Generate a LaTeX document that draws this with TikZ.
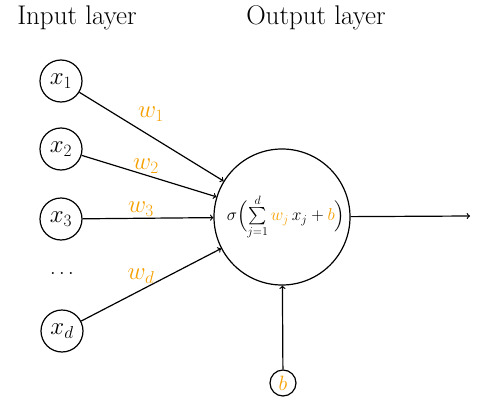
\documentclass[tikz,border=0pt]{standalone}
\usepackage{amsmath}
\definecolor{wcol}{RGB}{245,160,0}
\begin{document}
\begin{tikzpicture}[x=1pt,y=-1pt,line width=1.2pt,
    inp/.style={draw,circle,inner sep=0pt,minimum size=42pt,font=\fontsize{26}{30}\selectfont},
    wt/.style={text=wcol,font=\fontsize{24}{28}\selectfont}]
                \useasboundingbox (0,0) rectangle (482,415);
                \node[font=\fontsize{27}{31}\selectfont] (tin) at (77,18) {Input layer};
                \node[font=\fontsize{27}{31}\selectfont] (tout) at (316,18) {Output layer};
                \node[inp] (x1) at (61,81) {$x_1$};
                \node[inp] (x2) at (61,149) {$x_2$};
                \node[inp] (x3) at (61,219) {$x_3$};
                \node[font=\huge] (dots) at (62,273) {$\ldots$};
                \node[inp] (xd) at (62,331) {$x_d$};
                \node[draw,circle,inner sep=0pt,minimum size=136pt,font=\fontsize{18}{22}\selectfont] (out) at (282,217)
                    {\hspace{8pt}$\sigma\Bigl(\sum\limits_{j=1}^{d}{\color{wcol}w_j}\,x_j+{\color{wcol}b}\Bigr)$};
                \node[draw,circle,inner sep=0pt,minimum size=26pt,text=wcol,font=\huge] (b) at (283,383) {$b$};
                \coordinate (y) at (470,216);
                \node[wt] (w1) at (151,114) {$w_1$};
                \node[wt] (w2) at (146,166) {$w_2$};
                \node[wt] (w3) at (141,209) {$w_3$};
                \node[wt] (wd) at (141,276) {$w_d$};
                \draw[->] (x1) -- (out);
                \draw[->] (x2) -- (out);
                \draw[->] (x3) -- (out);
                \draw[->] (xd) -- (out);
                \draw[->] (b) -- (out);
                \draw[->] (out) -- (y);
            \end{tikzpicture}
\end{document}
